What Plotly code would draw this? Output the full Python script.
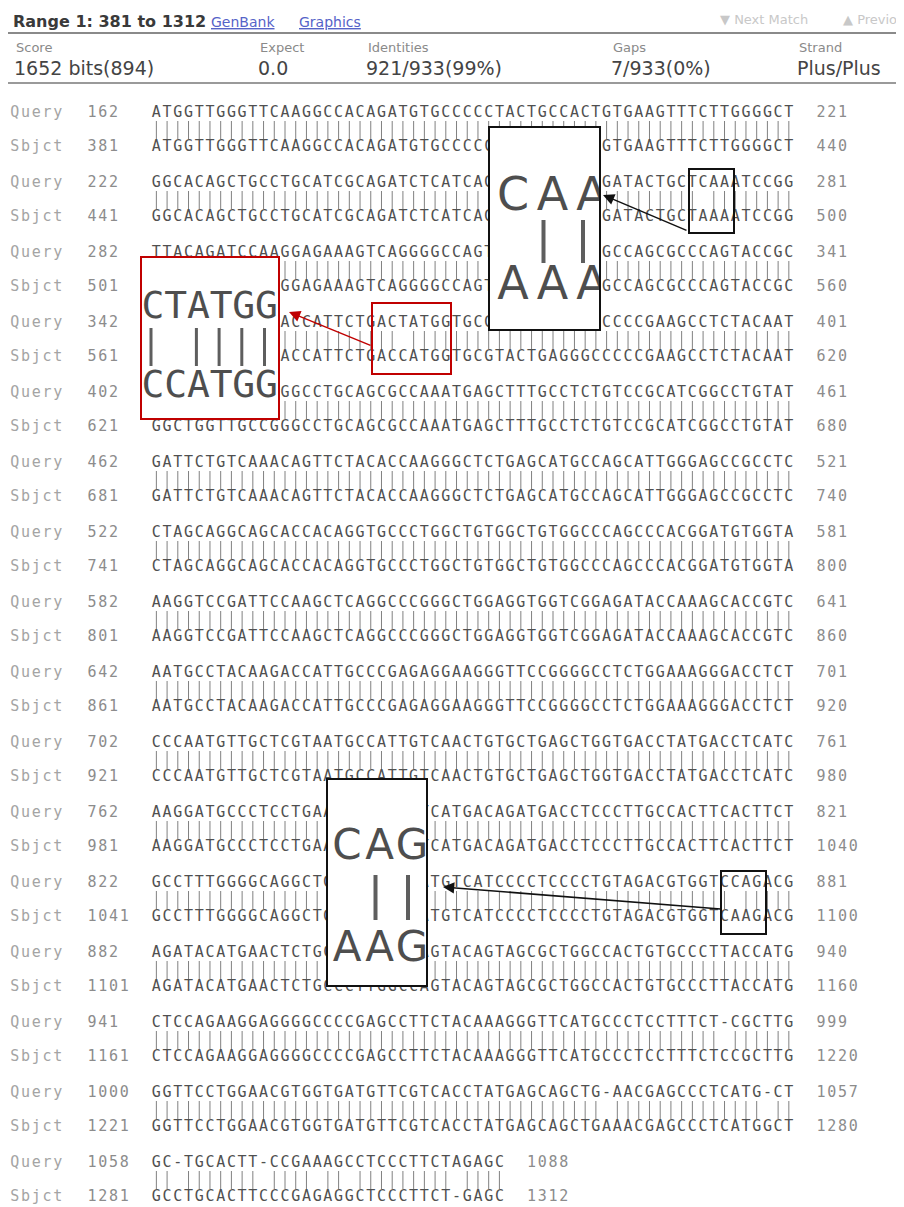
import plotly.graph_objects as go

# ------------------------------------------------------------------ data
range_title = "Range 1: 381 to 1312"
link_labels = ["GenBank", "Graphics"]
nav_labels = ["\u25bc Next Match", "\u25b2 Previous Match"]
stat_names = ["Score", "Expect", "Identities", "Gaps", "Strand"]
stat_values = ["1652 bits(894)", "0.0", "921/933(99%)", "7/933(0%)", "Plus/Plus"]

query_starts = [162, 222, 282, 342, 402, 462, 522, 582, 642, 702, 762, 822, 882, 941, 1000, 1058]
query_ends = [221, 281, 341, 401, 461, 521, 581, 641, 701, 761, 821, 881, 940, 999, 1057, 1088]
sbjct_starts = [381, 441, 501, 561, 621, 681, 741, 801, 861, 921, 981, 1041, 1101, 1161, 1221, 1281]
sbjct_ends = [440, 500, 560, 620, 680, 740, 800, 860, 920, 980, 1040, 1100, 1160, 1220, 1280, 1312]

query_seqs = [
    "ATGGTTGGGTTCAAGGCCACAGATGTGCCCCCTACTGCCACTGTGAAGTTTCTTGGGGCT",
    "GGCACAGCTGCCTGCATCGCAGATCTCATCAGCCTGGCCTGGGATACTGCTCAAATCCGG",
    "TTACAGATCCAAGGAGAAAGTCAGGGGCCAGTCCTGCCAGGAGCCAGCGCCCAGTACCGC",
    "CAGCTGGAGGCCACCATTCTGACTATGGTGCGTACTGAGGGCCCCCGAAGCCTCTACAAT",
    "GGCTGGTTGCCGGGCCTGCAGCGCCAAATGAGCTTTGCCTCTGTCCGCATCGGCCTGTAT",
    "GATTCTGTCAAACAGTTCTACACCAAGGGCTCTGAGCATGCCAGCATTGGGAGCCGCCTC",
    "CTAGCAGGCAGCACCACAGGTGCCCTGGCTGTGGCTGTGGCCCAGCCCACGGATGTGGTA",
    "AAGGTCCGATTCCAAGCTCAGGCCCGGGCTGGAGGTGGTCGGAGATACCAAAGCACCGTC",
    "AATGCCTACAAGACCATTGCCCGAGAGGAAGGGTTCCGGGGCCTCTGGAAAGGGACCTCT",
    "CCCAATGTTGCTCGTAATGCCATTGTCAACTGTGCTGAGCTGGTGACCTATGACCTCATC",
    "AAGGATGCCCTCCTGAAAGCCAACCTCATGACAGATGACCTCCCTTGCCACTTCACTTCT",
    "GCCTTTGGGGCAGGCTGGCCAGCCCATGTCATCCCCTCCCCTGTAGACGTGGTCCAGACG",
    "AGATACATGAACTCTGCCCTTGGCCAGTACAGTAGCGCTGGCCACTGTGCCCTTACCATG",
    "CTCCAGAAGGAGGGGCCCCGAGCCTTCTACAAAGGGTTCATGCCCTCCTTTCT-CGCTTG",
    "GGTTCCTGGAACGTGGTGATGTTCGTCACCTATGAGCAGCTG-AACGAGCCCTCATG-CT",
    "GC-TGCACTT-CCGAAAGCCTCCCTTCTAGAGC",
]
sbjct_seqs = [
    "ATGGTTGGGTTCAAGGCCACAGATGTGCCCCCTACTGCCACTGTGAAGTTTCTTGGGGCT",
    "GGCACAGCTGCCTGCATCGCAGATCTCATCAGCCTGGCCTGGGATACTGCTAAAATCCGG",
    "TTACAGATCCAAGGAGAAAGTCAGGGGCCAGTCCTGCCAGGAGCCAGCGCCCAGTACCGC",
    "CAGCTGGAGGCCACCATTCTGACCATGGTGCGTACTGAGGGCCCCCGAAGCCTCTACAAT",
    "GGCTGGTTGCCGGGCCTGCAGCGCCAAATGAGCTTTGCCTCTGTCCGCATCGGCCTGTAT",
    "GATTCTGTCAAACAGTTCTACACCAAGGGCTCTGAGCATGCCAGCATTGGGAGCCGCCTC",
    "CTAGCAGGCAGCACCACAGGTGCCCTGGCTGTGGCTGTGGCCCAGCCCACGGATGTGGTA",
    "AAGGTCCGATTCCAAGCTCAGGCCCGGGCTGGAGGTGGTCGGAGATACCAAAGCACCGTC",
    "AATGCCTACAAGACCATTGCCCGAGAGGAAGGGTTCCGGGGCCTCTGGAAAGGGACCTCT",
    "CCCAATGTTGCTCGTAATGCCATTGTCAACTGTGCTGAGCTGGTGACCTATGACCTCATC",
    "AAGGATGCCCTCCTGAAAGCCAACCTCATGACAGATGACCTCCCTTGCCACTTCACTTCT",
    "GCCTTTGGGGCAGGCTGGCCAGCCCATGTCATCCCCTCCCCTGTAGACGTGGTCAAGACG",
    "AGATACATGAACTCTGCCCTTGGCCAGTACAGTAGCGCTGGCCACTGTGCCCTTACCATG",
    "CTCCAGAAGGAGGGGCCCCGAGCCTTCTACAAAGGGTTCATGCCCTCCTTTCTCCGCTTG",
    "GGTTCCTGGAACGTGGTGATGTTCGTCACCTATGAGCAGCTGAAACGAGCCCTCATGGCT",
    "GCCTGCACTTCCCGAGAGGCTCCCTTCT-GAGC",
]

# zoomed insets: (query fragment, subject fragment)
inset_query = ["CAA", "CTATGG", "CAG"]
inset_sbjct = ["AAA", "CCATGG", "AAG"]

# ------------------------------------------------------------------ layout constants
W, H = 904, 1207          # page size
OFF = 8                   # body margin of the html page
FW, FH = W - OFF, H - OFF # figure size
X0, CW = 151.0, 10.72     # left edge of alignment column 0, char advance
Y0, PITCH, GAP = 113.0, 70.0, 34.0
SEQ_C, LABEL_C, NUM_C, BAR_C = "#505050", "#a4a4a4", "#8c8c8c", "#808080"

xs, ys, txt, cols = [], [], [], []


def put(s, col0, y, color):
    for i, ch in enumerate(s):
        if ch == " ":
            continue
        xs.append(X0 + (col0 + i + 0.5) * CW)
        ys.append(y)
        txt.append(ch)
        cols.append(color)


bx, by = [], []
for k in range(len(query_seqs)):
    q, s = query_seqs[k], sbjct_seqs[k]
    yq = Y0 + k * PITCH
    yb = yq + GAP
    put("Query", -13.2, yq, LABEL_C)
    put(str(query_starts[k]), -6, yq, NUM_C)
    put(q, 0, yq, SEQ_C)
    put(str(query_ends[k]), len(q) + 2, yq, NUM_C)
    put("Sbjct", -13.2, yb, LABEL_C)
    put(str(sbjct_starts[k]), -6, yb, NUM_C)
    put(s, 0, yb, SEQ_C)
    put(str(sbjct_ends[k]), len(s) + 2, yb, NUM_C)
    for i, (a, b) in enumerate(zip(q, s)):
        if a == b and a != "-":
            x = X0 + (i + 0.5) * CW
            bx += [x, x, None]
            by += [yq + 8, yb - 8, None]

fig = go.Figure()
fig.add_trace(go.Scatter(x=bx, y=by, mode="lines", line=dict(color=BAR_C, width=1),
                         hoverinfo="skip", showlegend=False))
fig.add_trace(go.Scatter(x=xs, y=ys, mode="text", text=txt, textposition="middle center",
                         textfont=dict(family="DejaVu Sans Mono", size=15, color=cols),
                         hoverinfo="skip", showlegend=False))

# ------------------------------------------------------------------ insets
inset_cfg = [
    dict(box=(490, 599, 128, 329), x0=513, step=39.5, ytop=198, ybot=287, bar=(220, 263),
         bar_dx=-9, font="DejaVu Sans", size=46, border="#111111", bw=4),
    dict(box=(142, 278, 258, 418), x0=153, step=22.7, ytop=308, ybot=387, bar=(328, 366),
         bar_dx=-2, font="DejaVu Sans Mono", size=38, border="#c00000", bw=3),
    dict(box=(328, 426, 780, 985), x0=347, step=32.5, ytop=848, ybot=950, bar=(875, 920),
         bar_dx=-4, font="DejaVu Sans", size=42, border="#111111", bw=4),
]
layout_axes = {}
for n, cfg in enumerate(inset_cfg):
    ax_id = n + 2
    xa, ya = f"x{ax_id}", f"y{ax_id}"
    bx0, bx1, by0, by1 = cfg["box"]
    top, bot = inset_query[n], inset_sbjct[n]
    lx = [cfg["x0"] + i * cfg["step"] for i in range(len(top))]
    fig.add_trace(go.Scatter(x=lx + lx, y=[cfg["ytop"]] * len(top) + [cfg["ybot"]] * len(bot),
                             mode="text", text=list(top) + list(bot), textposition="middle center",
                             textfont=dict(family=cfg["font"], size=cfg["size"], color="#4e4e4e"),
                             cliponaxis=True, xaxis=xa, yaxis=ya, hoverinfo="skip", showlegend=False))
    ix, iy = [], []
    for i, (a, b) in enumerate(zip(top, bot)):
        if a == b:
            ix += [lx[i] + cfg["bar_dx"], lx[i] + cfg["bar_dx"], None]
            iy += [cfg["bar"][0], cfg["bar"][1], None]
    fig.add_trace(go.Scatter(x=ix, y=iy, mode="lines", line=dict(color="#5e5e5e", width=cfg["bw"]),
                             xaxis=xa, yaxis=ya, hoverinfo="skip", showlegend=False))
    common = dict(showgrid=False, zeroline=False, showticklabels=False, ticks="",
                  showline=True, mirror=True, linecolor=cfg["border"], linewidth=2, fixedrange=True)
    layout_axes[f"xaxis{ax_id}"] = dict(domain=[(bx0 - OFF) / FW, (bx1 - OFF) / FW],
                                        range=[bx0, bx1], anchor=ya, **common)
    layout_axes[f"yaxis{ax_id}"] = dict(domain=[1 - (by1 - OFF) / FH, 1 - (by0 - OFF) / FH],
                                        range=[by1, by0], anchor=xa, **common)

# small highlight boxes and arrows
hl_boxes = [((689, 734, 169, 233), "#111111"), ((372, 451, 303, 374), "#c00000"),
            ((721, 766, 871, 934), "#111111")]
shapes = []
for (x0, x1, y0, y1), c in hl_boxes:
    shapes.append(dict(type="rect", xref="x", yref="y", x0=x0, x1=x1, y0=y0, y1=y1,
                       line=dict(color=c, width=2), fillcolor="rgba(0,0,0,0)"))
# header rules
shapes.append(dict(type="line", xref="x", yref="y", x0=8, x1=W, y0=33, y1=33,
                   line=dict(color="#8a8a8a", width=2)))
shapes.append(dict(type="line", xref="x", yref="y", x0=8, x1=W, y0=83, y1=83,
                   line=dict(color="#9a9a9a", width=2)))

arrows = [((603, 195), (688, 231), "#111111"), ((289, 312), (372, 346), "#c00000"),
          ((443, 887), (722, 909), "#111111")]
annotations = []
for (hx, hy), (tx, ty), c in arrows:
    annotations.append(dict(x=hx, y=hy, ax=tx, ay=ty, xref="x", yref="y", axref="x", ayref="y",
                            text="", showarrow=True, arrowhead=2, arrowsize=1.5,
                            arrowwidth=1.5, arrowcolor=c))

# header text
annotations.append(dict(x=11, y=21, xref="x", yref="y", text="<b>" + range_title + "</b>",
                        showarrow=False, xanchor="left", yanchor="middle",
                        font=dict(family="DejaVu Sans", size=16, color="#3a3a3a")))
for lbl, lx0 in zip(link_labels, [209, 297]):
    annotations.append(dict(x=lx0, y=22, xref="x", yref="y", text="<u>" + lbl + "</u>",
                            showarrow=False, xanchor="left", yanchor="middle",
                            font=dict(family="DejaVu Sans", size=14, color="#5563c8")))
for lbl, lx0 in zip(nav_labels, [718, 841]):
    annotations.append(dict(x=lx0, y=19, xref="x", yref="y", text=lbl,
                            showarrow=False, xanchor="left", yanchor="middle",
                            font=dict(family="DejaVu Sans", size=13, color="#c8c8c8")))
stat_x = [14, 258, 366, 611, 797]
for name, val, sx in zip(stat_names, stat_values, stat_x):
    annotations.append(dict(x=sx, y=47, xref="x", yref="y", text=name, showarrow=False,
                            xanchor="left", yanchor="middle",
                            font=dict(family="DejaVu Sans", size=13, color="#8a8a8a")))
    annotations.append(dict(x=sx - 2, y=68, xref="x", yref="y", text=val, showarrow=False,
                            xanchor="left", yanchor="middle",
                            font=dict(family="DejaVu Sans", size=19, color="#444444")))

fig.update_layout(
    width=FW, height=FH, autosize=False,
    margin=dict(l=0, r=0, t=0, b=0, pad=0),
    paper_bgcolor="white", plot_bgcolor="white",
    xaxis=dict(range=[OFF, W], visible=False, fixedrange=True, domain=[0, 1]),
    yaxis=dict(range=[H, OFF], visible=False, fixedrange=True, domain=[0, 1]),
    shapes=shapes, annotations=annotations, showlegend=False,
    **layout_axes,
)

fig.write_html("out.html")
